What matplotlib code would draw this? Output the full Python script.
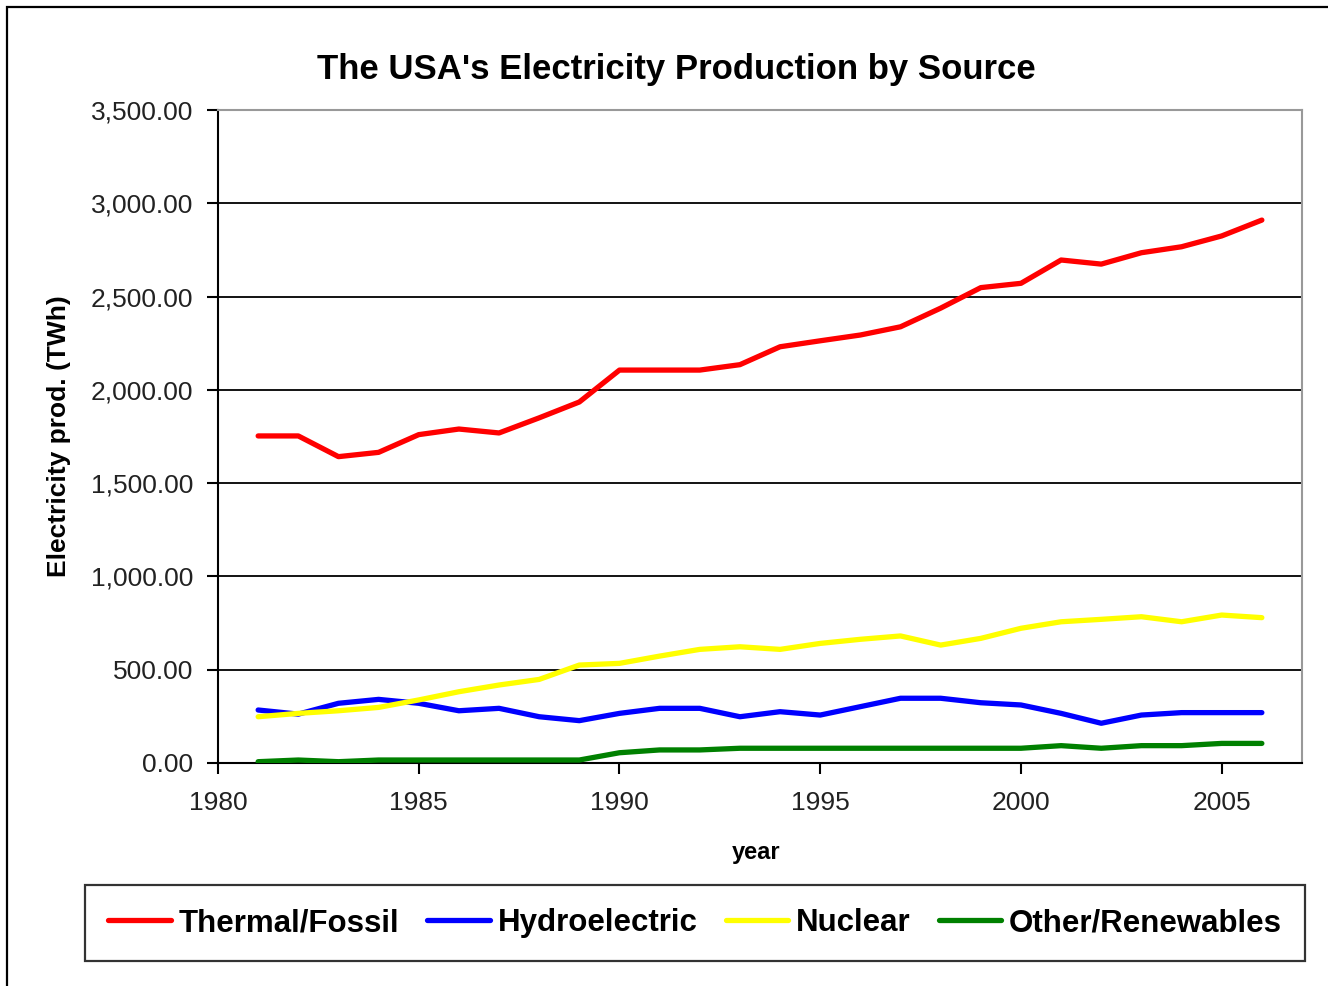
import matplotlib.pyplot as plt
from matplotlib.patches import Rectangle
from matplotlib.ticker import FuncFormatter

plt.rcParams['font.family'] = ['Liberation Sans', 'DejaVu Sans']

years = list(range(1981, 2007))
thermal = [1753, 1753, 1642, 1665, 1760, 1790, 1769, 1850, 1935, 2106,
           2106, 2106, 2135, 2231, 2263, 2294, 2338, 2438, 2548, 2571,
           2696, 2674, 2735, 2767, 2825, 2910]
hydro = [284, 262, 320, 341, 320, 280, 293, 248, 227, 266,
         293, 293, 248, 275, 257, 302, 347, 347, 323, 311,
         266, 213, 257, 270, 270, 270]
nuclear = [248, 266, 280, 298, 338, 382, 418, 448, 525, 534,
           573, 609, 623, 609, 641, 663, 681, 632, 668, 722,
           757, 770, 784, 757, 793, 779]
other = [7, 16, 7, 16, 16, 16, 16, 16, 16, 55,
         70, 70, 79, 79, 79, 79, 79, 79, 79, 79,
         93, 79, 93, 93, 105, 105]

series = [
    ('Thermal/Fossil', thermal, '#ff0000'),
    ('Hydroelectric', hydro, '#0000ff'),
    ('Nuclear', nuclear, '#ffff00'),
    ('Other/Renewables', other, '#008000'),
]

fig = plt.figure(figsize=(13.28, 9.86), dpi=100)
# outer chart border
fig.patches.append(Rectangle((7 / 1328, -0.01), 1.0, 1 - 7 / 986 + 0.01,
                             transform=fig.transFigure, fill=False,
                             edgecolor='black', linewidth=1.6))

ax = fig.add_axes([218 / 1328, 1 - 763 / 986, (1302 - 218) / 1328, (763 - 110) / 986])

lines = []
for name, vals, col in series:
    ln, = ax.plot(years, vals, color=col, linewidth=3.8, label=name,
                  solid_capstyle='round', zorder=3)
    lines.append(ln)

ax.set_xlim(1980, 2007)
ax.set_ylim(0, 3500)
ax.set_xticks(range(1980, 2006, 5))
ax.set_yticks(range(0, 3501, 500))
ax.yaxis.set_major_formatter(FuncFormatter(lambda v, p: f'{v:,.2f}'))
ax.grid(axis='y', color='black', linewidth=1.3)
ax.set_axisbelow(True)

for side in ['top', 'right']:
    ax.spines[side].set_color('#999999')
    ax.spines[side].set_linewidth(1.5)
for side in ['left', 'bottom']:
    ax.spines[side].set_color('black')
    ax.spines[side].set_linewidth(1.5)

ax.tick_params(axis='both', direction='out', length=8, width=1.5,
               labelsize=19, colors='black', labelcolor='#222222')
ax.tick_params(axis='x', pad=12)
ax.tick_params(axis='y', pad=10)

fig.text(676 / 1328, 1 - 70 / 986, "The USA's Electricity Production by Source",
         fontsize=25, fontweight='bold', ha='center', va='center')
ax.set_xlabel('year', fontsize=17, fontweight='bold')
ax.xaxis.set_label_coords(0.496, -0.12)
ax.set_ylabel('Electricity prod. (TWh)', fontsize=19, fontweight='bold', labelpad=14)

leg = fig.legend(handles=lines, loc='center', ncol=4,
                 bbox_to_anchor=(695 / 1328, 1 - 923 / 986),
                 prop={'size': 22.5, 'weight': 'bold'}, frameon=True,
                 fancybox=False, edgecolor='black', handlelength=2.0,
                 handletextpad=0.25, columnspacing=0.9, borderpad=0.75,
                 borderaxespad=0)
leg.get_frame().set_linewidth(1.6)

plt.savefig('out.png', dpi=100)
